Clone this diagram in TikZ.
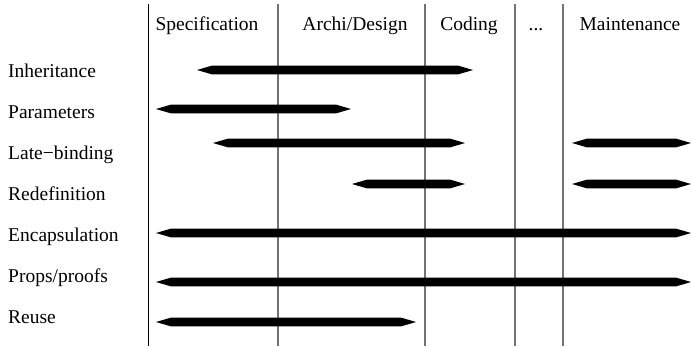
\documentclass[tikz,border=0pt]{standalone}
\usepackage{fontspec}
\setmainfont{Liberation Serif}
\newcommand\phasebar[4]{% name, y, x1, x2
  \fill[barfill] (#3,#2) -- (#3+15,#2-4.4) -- (#4-15,#2-4.4) -- (#4,#2)
    -- (#4-15,#2+4.4) -- (#3+15,#2+4.4) -- cycle;
  \coordinate (#1) at ({(#3+#4)/2},#2);}
\begin{document}
\begin{tikzpicture}[x=1pt,y=-1pt,
  lbl/.style={anchor=base west,inner sep=0pt,font=\fontsize{19.5}{22}\selectfont},
  hdr/.style={anchor=base,inner sep=0pt,font=\fontsize{19.5}{22}\selectfont},
  sep/.style={line width=1.2pt,draw=black!55},
  firstsep/.style={line width=1pt,draw=black},
  barfill/.style={fill=black}]
\useasboundingbox (0,0) rectangle (691,346);
% column separators
\draw[firstsep] (148,4) coordinate (s0t) -- (148,346) coordinate (s0b);
\draw[sep] (278,4) coordinate (s1t) -- (278,346) coordinate (s1b);
\draw[sep] (425,4) coordinate (s2t) -- (425,346) coordinate (s2b);
\draw[sep] (515,4) coordinate (s3t) -- (515,346) coordinate (s3b);
\draw[sep] (563,4) coordinate (s4t) -- (563,346) coordinate (s4b);
% headers
\node[hdr] (hspec) at (207,30) {Specification};
\node[hdr] (hdes) at (355,30) {Archi/Design};
\node[hdr] (hcod) at (469,30) {Coding};
\node[hdr] (hdots) at (536,30) {...};
\node[hdr] (hmain) at (630,30) {Maintenance};
% row labels
\node[lbl] (linh) at (8,77) {Inheritance};
\node[lbl] (lpar) at (8,118) {Parameters};
\node[lbl] (llate) at (8,159) {Late−binding};
\node[lbl] (lred) at (8,200) {Redefinition};
\node[lbl] (lenc) at (8,241) {Encapsulation};
\node[lbl] (lprop) at (8,282) {Props/proofs};
\node[lbl] (lreu) at (8,323) {Reuse};
% bars
\phasebar{binh}{70}{197}{473}
\phasebar{bpar}{109}{156}{351}
\phasebar{blate}{143}{213}{465}
\phasebar{blate2}{143}{572}{691}
\phasebar{bred}{184}{352}{465}
\phasebar{bred2}{184}{572}{691}
\phasebar{benc}{233}{156}{691}
\phasebar{bprop}{282}{156}{691}
\phasebar{breu}{322}{156}{416}
\end{tikzpicture}
\end{document}
